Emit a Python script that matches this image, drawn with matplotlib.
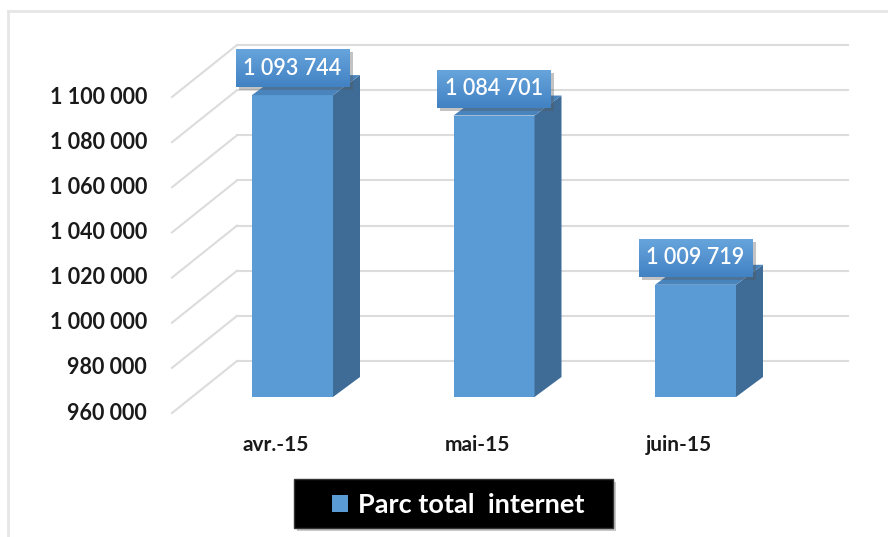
import numpy as np
import matplotlib
matplotlib.use("Agg")
import matplotlib.pyplot as plt
from matplotlib.patches import Polygon, Rectangle
from matplotlib.colors import LinearSegmentedColormap
from matplotlib.lines import Line2D

# data
months = ["avr.-15", "mai-15", "juin-15"]
parc = [1093744, 1084701, 1009719]
ticks = [960000, 980000, 1000000, 1020000, 1040000, 1060000, 1080000, 1100000]
series_name = "Parc total  internet"

plt.rcParams["font.family"] = ["Lato", "DejaVu Sans"]

# pixel layout of the front plane (where the tick labels sit)
W, H = 888, 537
x0_px, xstep_px = 271.5, 201.5
ybase_px, ytop_px = 413, 97
vmin, vmax = ticks[0], ticks[-1]
vpp = (vmax - vmin) / (ybase_px - ytop_px)  # value per pixel


def px2x(px):
    return (px - x0_px) / xstep_px


def py2v(py):
    return vmin + (ybase_px - py) * vpp


def fmt(v):
    return f"{v:,}".replace(",", " ")


fig = plt.figure(figsize=(W / 100, H / 100), dpi=100)
ax = fig.add_axes([0, 0, 1, 1])
ax.set_axis_off()

# depth offsets (px): back wall, bar front plane, bar thickness
wall_dx, wall_dy = 65, 52
bar_dx, bar_dy = 21, 16
side_dx, side_dy = 27, 20
bar_w = 81 / xstep_px
grid_col = "#dcdcdc"

# side wall and back wall gridlines
left_x = px2x(172)
for t in ticks:
    ax.plot([left_x, left_x + wall_dx / xstep_px], [t, t + wall_dy * vpp],
            color=grid_col, lw=1.5, zorder=1)
    ax.plot([left_x + wall_dx / xstep_px, px2x(848)], [t + wall_dy * vpp] * 2,
            color=grid_col, lw=1.5, zorder=1)
    ax.text(px2x(147), t, fmt(t), ha="right", va="center",
            fontsize=15.5, fontweight="bold", color="#1a1a1a")

xs = np.arange(len(months))
fx = bar_dx / xstep_px
fy = bar_dy * vpp
base = vmin + fy
heights = [v - vmin for v in parc]

bars = ax.bar(xs + fx, heights, bottom=base, width=bar_w,
              color="#5b9bd5", zorder=3, label=series_name)

sdx = side_dx / xstep_px
sdy = side_dy * vpp
for x, v in zip(xs + fx, parc):
    top = v + fy
    r = x + bar_w / 2
    l = x - bar_w / 2
    ax.add_patch(Polygon([(r, base), (r + sdx, base + sdy), (r + sdx, top + sdy), (r, top)],
                         closed=True, facecolor="#3e6c97", edgecolor="none", zorder=3))
    ax.add_patch(Polygon([(l, top), (r, top), (r + sdx, top + sdy), (l + sdx, top + sdy)],
                         closed=True, facecolor="#4a84bc", edgecolor="none", zorder=3))

# value labels in gradient boxes
box_cmap = LinearSegmentedColormap.from_list("box", ["#4182c3", "#67a4dc"])
grad = np.linspace(0, 1, 64).reshape(-1, 1)
bw = 114 / xstep_px
bh = 38 * vpp
for x, v in zip(xs + fx, parc):
    cy = v + fy + 27 * vpp
    ax.add_patch(Rectangle((x - bw / 2 + 3 / xstep_px, cy - bh / 2 - 3 * vpp), bw, bh,
                           facecolor="#555555", alpha=0.35, edgecolor="none", zorder=4))
    ax.imshow(grad, extent=[x - bw / 2, x + bw / 2, cy - bh / 2, cy + bh / 2],
              origin="lower", cmap=box_cmap, aspect="auto", zorder=5)
    ax.text(x, cy, fmt(v), ha="center", va="center", color="white",
            fontsize=15.5, fontweight="semibold", zorder=6)

# category labels
for x, m in zip(xs, months):
    ax.text(x + 4 / xstep_px, py2v(445), m, ha="center", va="center",
            fontsize=15, fontweight="bold", color="#1a1a1a")

# legend on a black band
lx0, lx1, ly0, ly1 = px2x(294), px2x(613), py2v(528), py2v(479)
ax.add_patch(Rectangle((lx0 + 3 / xstep_px, ly0 - 3 * vpp), lx1 - lx0, ly1 - ly0,
                       facecolor="#777777", alpha=0.4, edgecolor="none", zorder=6))
ax.add_patch(Rectangle((lx0, ly0), lx1 - lx0, ly1 - ly0,
                       facecolor="black", edgecolor="#333333", lw=1, zorder=7))
leg = ax.legend(handles=[bars], loc="center", bbox_to_anchor=(458 / W, 1 - 505 / H),
                frameon=False, handlelength=0.6, handleheight=0.6, handletextpad=0.35,
                labelcolor="white", prop={"family": "Lato", "weight": "bold", "size": 19.5})
leg.set_zorder(8)

ax.set_xlim(px2x(0), px2x(W))
ax.set_ylim(py2v(H), py2v(0))

# chart frame
fig.add_artist(Line2D([8 / W, 8 / W], [0, 1 - 11 / H], color="#e6e6e6", lw=2))
fig.add_artist(Line2D([8 / W, 1], [1 - 11 / H, 1 - 11 / H], color="#e6e6e6", lw=2))

fig.savefig("out.png", dpi=100)
